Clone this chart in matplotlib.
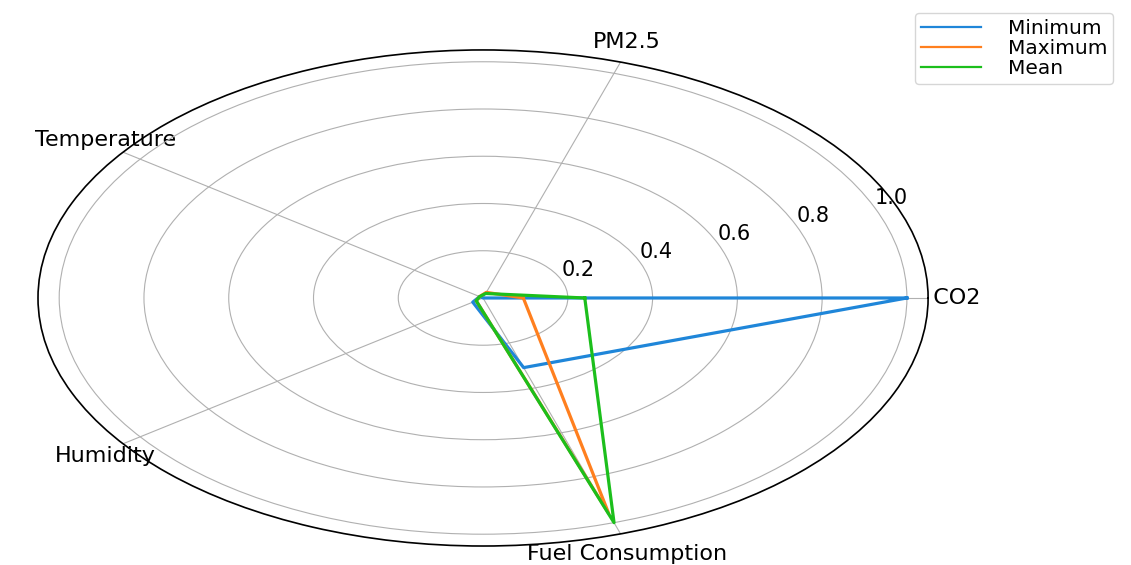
import numpy as np
import matplotlib
matplotlib.use("Agg")
import matplotlib.pyplot as plt

categories = ["CO2", "PM2.5", "Temperature", "Humidity", "Fuel Consumption"]
series_names = ["Minimum", "Maximum", "Mean"]
minimum = [1.0, 0.0, 0.01, 0.03, 0.31]
maximum = [0.095, 0.025, 0.01, 0.02, 0.96]
mean = [0.24, 0.02, 0.01, 0.02, 1.0]
r_ticks = [0.2, 0.4, 0.6, 0.8, 1.0]
colors = ["#1f86d9", "#ff7f1e", "#1cbf1c"]

fig = plt.figure(figsize=(11.31, 5.65), dpi=100)
ax = fig.add_axes([0.0336, 0.0336, 0.787, 0.878], projection="polar")
ax.set_aspect("auto")

n = len(categories)
angles = np.linspace(0, 2 * np.pi, n, endpoint=False)
angles_closed = np.concatenate([angles, angles[:1]])

for name, vals, c in zip(series_names, [minimum, maximum, mean], colors):
    v = list(vals) + [vals[0]]
    ax.plot(angles_closed, v, color=c, linewidth=2.3, label=name)

ax.set_xticks(angles)
tick_text = ["  " + categories[0]] + categories[1:]
ax.set_xticklabels(tick_text, fontsize=16)
ax.set_yticks(r_ticks)
ax.set_yticklabels([f"{t:.1f}" for t in r_ticks], fontsize=15)
ax.set_ylim(0, 1.05)
ax.tick_params(axis="x", pad=5)
ax.spines["polar"].set_linewidth(1.2)

leg = fig.legend(loc="upper left", bbox_to_anchor=(0.800, 0.995), fontsize=14.5,
                 handlelength=3.0, labelspacing=0.05, borderpad=0.3,
                 handletextpad=1.3, frameon=True)
for line in leg.get_lines():
    line.set_linewidth(1.6)

fig.savefig("out.png", dpi=100)
